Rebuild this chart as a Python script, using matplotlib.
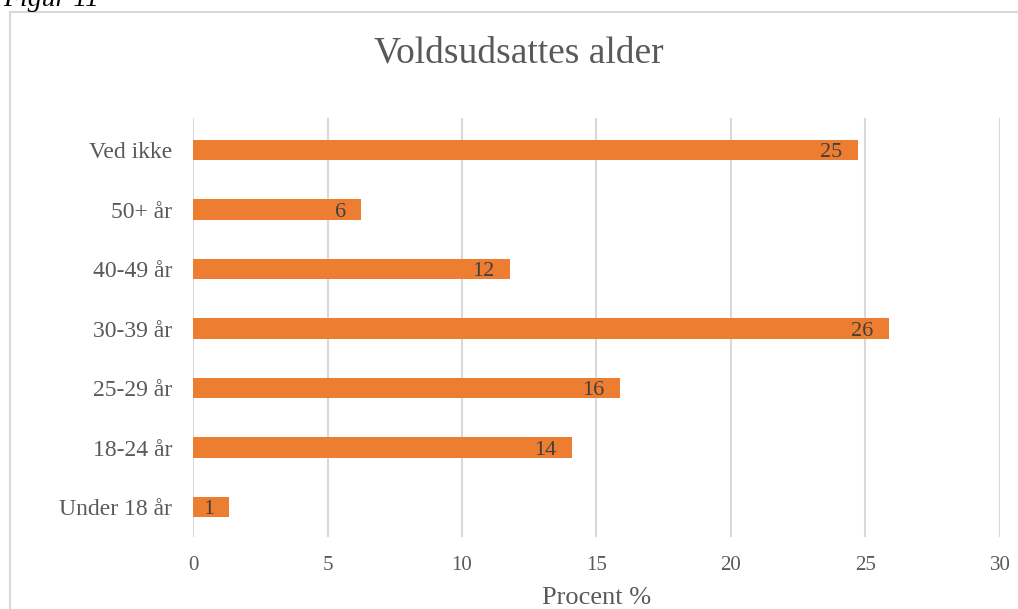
import matplotlib
matplotlib.use("Agg")
import matplotlib.pyplot as plt
from matplotlib.patches import Rectangle

categories = ["Under 18 år", "18-24 år", "25-29 år", "30-39 år", "40-49 år", "50+ år", "Ved ikke"]
values = [1.34, 14.09, 15.87, 25.87, 11.78, 6.25, 24.72]
labels = ["1", "14", "16", "26", "12", "6", "25"]
xticks = [0, 5, 10, 15, 20, 25, 30]

plt.rcParams["font.family"] = ["Liberation Serif", "DejaVu Serif"]
grey = "#595959"

fig = plt.figure(figsize=(10.18, 6.09), dpi=100)
ax = fig.add_axes([0.1896, 0.1182, 0.7927, 0.688])

# outer chart border
fig.patches.append(Rectangle((10 / 1018, -0.01), 1.0, 1 - 12 / 609 + 0.01,
                             transform=fig.transFigure, fill=False,
                             edgecolor="#D9D9D9", lw=1.5))

y = range(len(categories))
ax.barh(y, values, height=0.34, color="#ED7D31", zorder=3)
for i, (v, lab) in enumerate(zip(values, labels)):
    ax.annotate(lab, (v, i), xytext=(-11, 0), textcoords="offset points",
                ha="right", va="center_baseline", fontsize=16, color="#404040", zorder=4)

ax.set_xlim(0, 30)
ax.set_ylim(-0.504, 6.538)
ax.set_xticks(xticks)
ax.set_xticklabels([str(t) for t in xticks], fontsize=15, color=grey)
ax.set_yticks(list(y))
ax.set_yticklabels(categories, fontsize=17, color=grey)
ax.tick_params(length=0, pad=15)
ax.tick_params(axis="x", pad=14)
ax.grid(axis="x", color="#D9D9D9", lw=1.5, zorder=0)
for s in ax.spines.values():
    s.set_visible(False)
ax.set_xlabel("Procent %", fontsize=19, color=grey, labelpad=8)

fig.text(0.51, 1 - 53 / 609, "Voldsudsattes alder", ha="center", va="center",
         fontsize=27, color=grey)
fig.text(0.003, 1 - 6 / 609, "Figur 11", ha="left", va="baseline",
         fontsize=20, style="italic", color="black")

fig.savefig("out.png", dpi=100)
